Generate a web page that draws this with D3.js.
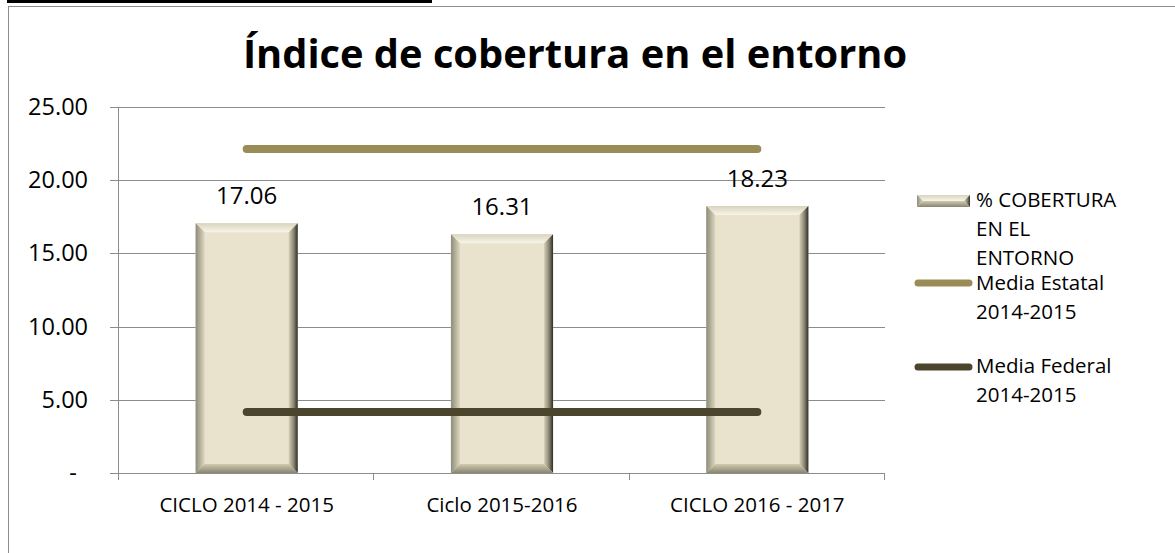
<!DOCTYPE html>
<html>
<head>
<meta charset="utf-8">
<script src="https://cdn.jsdelivr.net/npm/d3@7"></script>
<style>
  body { margin: 0; background: #fff; }
  text { font-family: "Open Sans", sans-serif; fill: #000; }
</style>
</head>
<body>
<script>
var categories = ["CICLO 2014 - 2015", "Ciclo 2015-2016", "CICLO 2016 - 2017"]
var cobertura = [17.06, 16.31, 18.23]
var mediaEstatal = [22.13, 22.13, 22.13]
var mediaFederal = [4.17, 4.17, 4.17]
var yTicks = [0, 5, 10, 15, 20, 25]
var legendItems = [
  {kind: "bar", lines: ["% COBERTURA", "EN EL", "ENTORNO"]},
  {kind: "estatal", lines: ["Media Estatal", "2014-2015"]},
  {kind: "federal", lines: ["Media Federal", "2014-2015"]}
]

var width = 1175
var height = 553
var margin = {left: 119, right: 290, top: 107, bottom: 80}

var svg = d3.select("body").append("svg")
  .attr("width", width)
  .attr("height", height)

// dark bar at the top and chart frame
svg.append("rect").attr("x", 7).attr("y", 0).attr("width", 425).attr("height", 3).attr("fill", "#000")
svg.append("rect")
   .attr("x", 8.5).attr("y", 6.5)
   .attr("width", 1180).attr("height", 560)
   .attr("fill", "none").attr("stroke", "#8c8c8c").attr("stroke-width", 1)

var defs = svg.append("defs")
var gr = defs.append("linearGradient").attr("id", "rightEdge").attr("x1", 0).attr("x2", 1).attr("y1", 0).attr("y2", 0)
gr.append("stop").attr("offset", "0%").attr("stop-color", "#d6d0b8")
gr.append("stop").attr("offset", "55%").attr("stop-color", "#8a8673")
gr.append("stop").attr("offset", "100%").attr("stop-color", "#2f2d28")
var gl = defs.append("linearGradient").attr("id", "leftEdge").attr("x1", 0).attr("x2", 1).attr("y1", 0).attr("y2", 0)
gl.append("stop").attr("offset", "0%").attr("stop-color", "#8e8b79")
gl.append("stop").attr("offset", "100%").attr("stop-color", "#ddd7c0")
var gt = defs.append("linearGradient").attr("id", "topEdge").attr("x1", 0).attr("x2", 0).attr("y1", 0).attr("y2", 1)
gt.append("stop").attr("offset", "0%").attr("stop-color", "#d9d4be")
gt.append("stop").attr("offset", "100%").attr("stop-color", "#f7f5ea")
var gb = defs.append("linearGradient").attr("id", "bottomEdge").attr("x1", 0).attr("x2", 0).attr("y1", 0).attr("y2", 1)
gb.append("stop").attr("offset", "0%").attr("stop-color", "#d0caaf")
gb.append("stop").attr("offset", "100%").attr("stop-color", "#8a8570")

var x = d3.scaleBand()
  .domain(categories)
  .range([margin.left, width - margin.right])
  .paddingInner(0.6)
  .paddingOuter(0.3)

var y = d3.scaleLinear()
  .domain([0, 25])
  .range([height - margin.bottom, margin.top])

// gridlines
svg.append("g")
   .selectAll("line")
   .data(yTicks)
   .enter()
   .append("line")
   .attr("x1", margin.left - 9)
   .attr("x2", width - margin.right)
   .attr("y1", function(d) {return Math.round(y(d)) + 0.5})
   .attr("y2", function(d) {return Math.round(y(d)) + 0.5})
   .attr("stroke", "#8c8c8c")

// y axis line
svg.append("line")
   .attr("x1", margin.left - 0.5).attr("x2", margin.left - 0.5)
   .attr("y1", y(25)).attr("y2", y(0) + 6)
   .attr("stroke", "#8c8c8c")

// category ticks
var bounds = [0, 1, 2, 3].map(function(i) {return margin.left + i * (width - margin.right - margin.left) / 3})
svg.append("g")
   .selectAll("line")
   .data(bounds)
   .enter()
   .append("line")
   .attr("x1", function(d) {return Math.round(d) - 0.5})
   .attr("x2", function(d) {return Math.round(d) - 0.5})
   .attr("y1", y(0))
   .attr("y2", y(0) + 7)
   .attr("stroke", "#8c8c8c")

// y tick labels
svg.append("g")
   .selectAll("text")
   .data(yTicks)
   .enter()
   .append("text")
   .attr("x", function(d) {return d == 0 ? 73 : 88})
   .attr("y", function(d) {return y(d) + 8})
   .attr("text-anchor", function(d) {return d == 0 ? "middle" : "end"})
   .style("font-size", "23.5px")
   .text(function(d) {return d == 0 ? "-" : d.toFixed(2)})

// category labels
svg.append("g")
   .selectAll("text")
   .data(categories)
   .enter()
   .append("text")
   .attr("x", function(d) {return x(d) + x.bandwidth() / 2})
   .attr("y", y(0) + 39)
   .attr("text-anchor", "middle")
   .style("font-size", "20.5px")
   .text(function(d) {return d})

// beveled bars
var drawBar = function(g, x0, y0, w, h) {
  var b = Math.min(9, h / 2)
  g.append("rect").attr("x", x0).attr("y", y0).attr("width", w).attr("height", h).attr("fill", "#e9e3cd")
  g.append("polygon")
   .attr("points", [[x0, y0], [x0 + w, y0], [x0 + w - b, y0 + b], [x0 + b, y0 + b]].join(" "))
   .attr("fill", "url(#topEdge)")
  g.append("polygon")
   .attr("points", [[x0, y0], [x0 + b, y0 + b], [x0 + b, y0 + h - b], [x0, y0 + h]].join(" "))
   .attr("fill", "url(#leftEdge)")
  g.append("polygon")
   .attr("points", [[x0 + w, y0], [x0 + w, y0 + h], [x0 + w - b, y0 + h - b], [x0 + w - b, y0 + b]].join(" "))
   .attr("fill", "url(#rightEdge)")
  g.append("polygon")
   .attr("points", [[x0, y0 + h], [x0 + b, y0 + h - b], [x0 + w - b, y0 + h - b], [x0 + w, y0 + h]].join(" "))
   .attr("fill", "url(#bottomEdge)")
}

var barG = svg.append("g")
categories.forEach(function(c, i) {
  var g = barG.append("g")
  drawBar(g, x(c), y(cobertura[i]), x.bandwidth(), y(0) - y(cobertura[i]))
})

// value labels
svg.append("g")
   .selectAll("text")
   .data(cobertura)
   .enter()
   .append("text")
   .attr("x", function(d, i) {return x(categories[i]) + x.bandwidth() / 2})
   .attr("y", function(d) {return y(d) - 19})
   .attr("text-anchor", "middle")
   .style("font-size", "24px")
   .text(function(d) {return d.toFixed(2)})

// mean lines
var line = d3.line()
  .x(function(d, i) {return x(categories[i]) + x.bandwidth() / 2})
  .y(function(d) {return y(d)})

svg.append("path")
   .attr("d", line(mediaEstatal))
   .attr("fill", "none")
   .attr("stroke", "#998c57")
   .attr("stroke-width", 8)
   .attr("stroke-linecap", "round")

svg.append("path")
   .attr("d", line(mediaFederal))
   .attr("fill", "none")
   .attr("stroke", "#4b452e")
   .attr("stroke-width", 8)
   .attr("stroke-linecap", "round")

// title
svg.append("text")
   .attr("x", 575)
   .attr("y", 68)
   .attr("text-anchor", "middle")
   .style("font-size", "39.8px")
   .style("font-weight", "bold")
   .text("Índice de cobertura en el entorno")

// legend
var legY = [201, 283, 367]
var legBase = [207, 290, 373]
var lg = svg.append("g")
legendItems.forEach(function(item, i) {
  var ly = legY[i]
  if (item.kind == "bar") {
    drawBar(lg.append("g"), 917, ly - 6, 53, 12)
  } else {
    lg.append("line")
      .attr("x1", 918).attr("x2", 969)
      .attr("y1", ly).attr("y2", ly)
      .attr("stroke", item.kind == "estatal" ? "#998c57" : "#4b452e")
      .attr("stroke-width", 7)
      .attr("stroke-linecap", "round")
  }
  lg.append("text")
    .attr("x", 976)
    .attr("y", legBase[i])
    .style("font-size", "20.5px")
    .selectAll("tspan")
    .data(item.lines)
    .enter()
    .append("tspan")
    .attr("x", 976)
    .attr("dy", function(d, j) {return j == 0 ? 0 : 28.8})
    .text(function(d) {return d})
})
</script>
</body>
</html>
